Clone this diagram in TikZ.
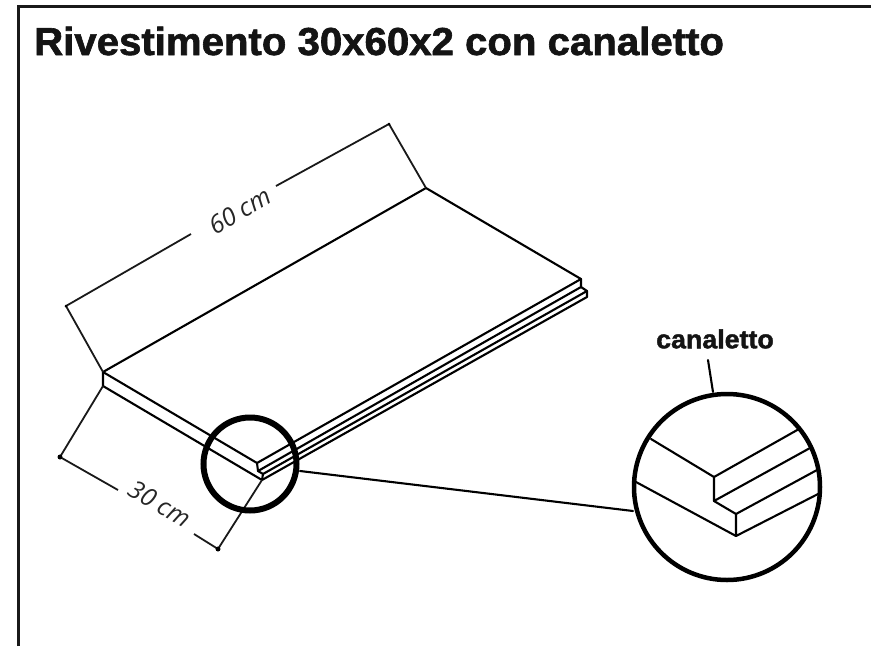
\documentclass[tikz,border=0pt]{standalone}
\usepackage{fontspec}
\setmainfont{Liberation Sans}
\newfontfamily\labfont{Open Sans}
\newfontfamily\heavyfont[FakeBold=1.6,FakeStretch=1.03]{Liberation Sans Bold}
\tikzset{
  edge/.style={draw=black,line width=2.1pt,line join=round,line cap=round},
  dim/.style={draw=black!90,line width=1.8pt,line join=round},
  thickring/.style={circle,draw=black,line width=6pt,minimum size=93pt,inner sep=0pt},
  bigring/.style={circle,draw=black,line width=4.5pt,minimum size=186pt,inner sep=0pt},
  dimlabel/.style={font=\labfont\itshape\fontsize{25}{27}\selectfont,text=black!85,inner sep=0pt},
  frameline/.style={draw=black!90,line width=3pt}
}
\begin{document}
\begin{tikzpicture}[x=1pt,y=-1pt]
\useasboundingbox (0,0) rectangle (871,646);
\draw[frameline] (18,646) -- (18,6.5) -- (871,6.5);
\node[anchor=base west,inner sep=0pt,font=\heavyfont\fontsize{39}{41}\selectfont,text=black!92] (title) at (34,55) {Rivestimento 30x60x2 con canaletto};
% slab
\coordinate (bl) at (103,372);
\coordinate (bl2) at (103,386);
\coordinate (tb) at (426,188);
\coordinate (tr) at (581,279);
\coordinate (tr2) at (581,287);
\coordinate (tr3) at (587,291);
\coordinate (tr4) at (587,297);
\coordinate (fc) at (257,463);
\coordinate (fc2) at (258,471);
\coordinate (fc3) at (263,474);
\coordinate (fc4) at (262,480);
\draw[edge] (bl) -- (tb) -- (tr) -- (tr2) -- (tr3) -- (tr4) -- (fc4) -- (bl2) -- cycle;
\draw[edge] (bl) -- (fc) -- (tr);
\draw[edge] (fc) -- (fc2) -- (fc3) -- (fc4);
\draw[edge] (fc2) -- (tr2);
\draw[edge] (fc3) -- (tr3);
% dimensions
\coordinate (d1) at (389,124);
\coordinate (d2) at (66,306);
\coordinate (d3) at (60,457);
\coordinate (d4) at (218,549);
\node[dimlabel,rotate=30] (l60) at (240,211) {60 cm};
\node[dimlabel,rotate=-30] (l30) at (160,504) {30 cm};
\coordinate (g1) at (276,186);
\coordinate (g2) at (191,234);
\coordinate (g3) at (118,490);
\coordinate (g4) at (194,534);
\draw[dim] (tb) -- (d1) -- (g1);
\draw[dim] (g2) -- (d2) -- (bl);
\draw[dim] (bl2) -- (d3) -- (g3);
\draw[dim] (g4) -- (d4) -- (fc4);
\fill (d3) circle (2.5pt);
\fill (d4) circle (2.5pt);
\fill (d2) circle (1.5pt);
\fill (d1) circle (1.5pt);
% rings
\node[thickring] (small) at (250,464) {};
\node[bigring] (big) at (727,487) {};
\coordinate (c1) at (300,471);
\coordinate (c2) at (633,511);
\draw[edge] (c1) -- (c2);
\node[font=\heavyfont\fontsize{26}{28}\selectfont,inner sep=0pt,text=black!92] (can) at (715,339) {canaletto};
\coordinate (lead) at (708,360);
\coordinate (leadb) at (713,392);
\draw[edge] (lead) -- (leadb);
% detail
\coordinate (a1) at (651,439);
\coordinate (a2) at (714,477);
\coordinate (a3) at (799,429);
\coordinate (a4) at (714,501);
\coordinate (a5) at (810,448);
\coordinate (a6) at (736,514);
\coordinate (a7) at (817,470);
\coordinate (a8) at (736,536);
\coordinate (a9) at (636,482);
\coordinate (a10) at (820,493);
\draw[edge] (a1) -- (a2) -- (a3);
\draw[edge] (a2) -- (a4) -- (a5);
\draw[edge] (a4) -- (a6) -- (a7);
\draw[edge] (a6) -- (a8) -- (a10);
\draw[edge] (a9) -- (a8);
\end{tikzpicture}
\end{document}
